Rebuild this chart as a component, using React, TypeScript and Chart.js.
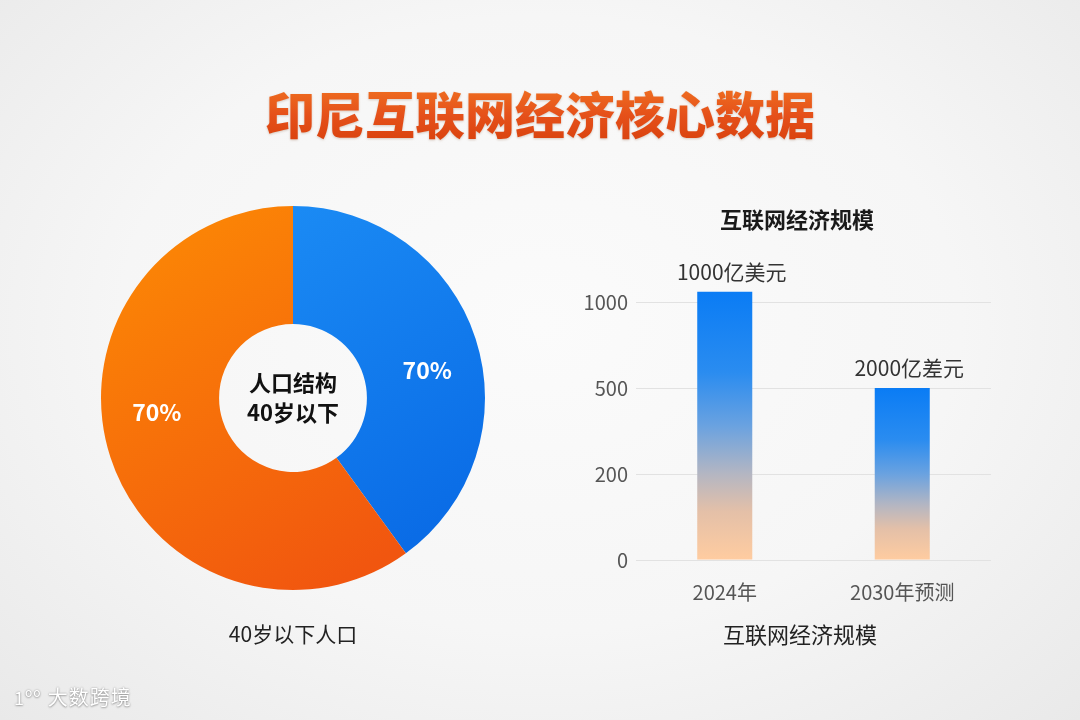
import React, { useEffect, useRef } from "react";
import { Chart, registerables } from "chart.js";

Chart.register(...registerables);

// ---- data ----
const pageTitle = "印尼互联网经济核心数据";
const pieCategories = ["40岁以下", "其他"];
const pieValues = [40, 60];
const pieLabels = ["70%", "70%"];
const pieCenterLines = ["人口结构", "40岁以下"];
const pieCaption = "40岁以下人口";

const barTitle = "互联网经济规模";
const barCategories = ["2024年", "2030年预测"];
const barValues = [1060, 500];
const barLabels = ["1000亿美元", "2000亿差元"];
const tickValues = [0, 200, 500, 1000];
const barAxisTitle = "互联网经济规模";

const FONT = '"Noto Sans CJK SC", "Noto Sans", sans-serif';

// piecewise mapping of the (unevenly spaced) axis values onto equal steps
function toAxis(v: number): number {
  for (let i = 1; i < tickValues.length; i++) {
    if (v <= tickValues[i] || i === tickValues.length - 1) {
      const a = tickValues[i - 1];
      const b = tickValues[i];
      return i - 1 + (v - a) / (b - a);
    }
  }
  return 0;
}

function DoughnutChart() {
  const ref = useRef<HTMLCanvasElement>(null);
  useEffect(() => {
    const labelPlugin = {
      id: "arcLabels",
      afterDatasetsDraw(chart: any) {
        const ctx = chart.ctx;
        const meta = chart.getDatasetMeta(0);
        const shifts = [6.5, 12];
        ctx.save();
        ctx.font = `bold 23px ${FONT}`;
        ctx.fillStyle = "#ffffff";
        ctx.textAlign = "center";
        ctx.textBaseline = "middle";
        meta.data.forEach((el: any, i: number) => {
          const p = el.getProps(["x", "y", "startAngle", "endAngle", "innerRadius", "outerRadius"], true);
          const a = (p.startAngle + p.endAngle) / 2 + (shifts[i] * Math.PI) / 180;
          const r = (p.innerRadius + p.outerRadius) / 2 + 4;
          ctx.fillText(pieLabels[i], p.x + Math.cos(a) * r, p.y + Math.sin(a) * r);
        });
        // center text
        const el0 = meta.data[0];
        if (el0) {
          ctx.fillStyle = "#111111";
          ctx.font = `bold 22px ${FONT}`;
          ctx.fillText(pieCenterLines[0], el0.x, el0.y - 15);
          ctx.fillText(pieCenterLines[1], el0.x, el0.y + 15);
        }
        ctx.restore();
      },
    };
    const grad = (ctx: any, top: string, bottom: string) => {
      const chart = ctx.chart;
      const area = chart.chartArea;
      if (!area) return top;
      const g = chart.ctx.createLinearGradient(area.left, area.top, area.right * 0.6, area.bottom);
      g.addColorStop(0, top);
      g.addColorStop(1, bottom);
      return g;
    };
    const chart = new Chart(ref.current!, {
      type: "doughnut",
      data: {
        labels: pieCategories,
        datasets: [
          {
            data: pieValues,
            backgroundColor: (c: any) =>
              c.dataIndex === 0 ? grad(c, "#1f93f8", "#0a6ce6") : grad(c, "#fd8c04", "#f1560f"),
            borderWidth: 0,
          },
        ],
      },
      options: {
        animation: false,
        responsive: false,
        cutout: "38.5%",
        layout: { padding: 8 },
        plugins: { legend: { display: false }, tooltip: { enabled: false } },
      },
      plugins: [labelPlugin],
    });
    return () => chart.destroy();
  }, []);
  return <canvas ref={ref} width={400} height={400} style={{ position: "absolute", left: 93, top: 198 }} />;
}

function BarChart() {
  const ref = useRef<HTMLCanvasElement>(null);
  useEffect(() => {
    const labelPlugin = {
      id: "barLabels",
      afterDatasetsDraw(chart: any) {
        const ctx = chart.ctx;
        const meta = chart.getDatasetMeta(0);
        ctx.save();
        ctx.font = `21px ${FONT}`;
        ctx.fillStyle = "#333333";
        ctx.textAlign = "center";
        ctx.textBaseline = "middle";
        meta.data.forEach((el: any, i: number) => {
          ctx.fillText(barLabels[i], el.x + 7, el.y - 20);
        });
        ctx.restore();
      },
    };
    const chart = new Chart(ref.current!, {
      type: "bar",
      data: {
        labels: barCategories,
        datasets: [
          {
            data: barValues.map(toAxis),
            backgroundColor: (c: any) => {
              const ch = c.chart;
              const area = ch.chartArea;
              if (!area || c.raw == null) return "#1a85f5";
              const top = ch.scales.y.getPixelForValue(c.raw);
              const bottom = ch.scales.y.getPixelForValue(0);
              const g = ch.ctx.createLinearGradient(0, top, 0, bottom);
              g.addColorStop(0, "#0a7cf5");
              g.addColorStop(0.3, "#2a8cf0");
              g.addColorStop(0.5, "#6aa2e0");
              g.addColorStop(0.68, "#b4b6c2");
              g.addColorStop(0.82, "#e4c0a8");
              g.addColorStop(1, "#ffcca0");
              return g;
            },
            borderWidth: 0,
            categoryPercentage: 1,
            barPercentage: 0.31,
          },
        ],
      },
      options: {
        animation: false,
        responsive: false,
        layout: { padding: { top: 59, right: 49, bottom: 0, left: 0 } },
        plugins: { legend: { display: false }, tooltip: { enabled: false } },
        scales: {
          x: {
            grid: { display: false },
            border: { display: false },
            ticks: { color: "#555555", font: { family: FONT, size: 20 }, padding: 12 },
            afterFit: (s: any) => {
              s.height = 60;
            },
          },
          y: {
            min: 0,
            max: 3.5,
            grid: { color: "#e2e2e2", lineWidth: 1, drawTicks: false },
            border: { display: false },
            afterBuildTicks: (s: any) => {
              s.ticks = tickValues.map((_, i) => ({ value: i }));
            },
            ticks: {
              color: "#555555",
              font: { family: FONT, size: 20 },
              padding: 8,
              callback: (v: any) => String(tickValues[Number(v)] ?? ""),
            },
            afterFit: (s: any) => {
              s.width = 76;
            },
          },
        },
      },
      plugins: [labelPlugin],
    });
    return () => chart.destroy();
  }, []);
  return <canvas ref={ref} width={480} height={420} style={{ position: "absolute", left: 560, top: 200 }} />;
}

export default function App() {
  useEffect(() => {
    document.body.style.margin = "0";
  }, []);
  return (
    <div
      style={{
        position: "fixed",
        left: 0,
        top: 0,
        width: 1080,
        height: 720,
        overflow: "hidden",
        fontFamily: FONT,
        background: "radial-gradient(ellipse at 50% 45%, #fbfbfb 0%, #f6f6f6 55%, #e9e9e9 100%)",
      }}
    >
      <div
        style={{
          position: "absolute",
          left: 0,
          width: 1080,
          top: 78,
          textAlign: "center",
          fontSize: 50,
          fontWeight: 900,
          lineHeight: "68px",
          letterSpacing: 0,
          color: "#e9561a",
          background: "linear-gradient(180deg, #f27822 0%, #e5501a 55%, #d8400c 100%)",
          WebkitBackgroundClip: "text",
          backgroundClip: "text",
          WebkitTextFillColor: "transparent",
          filter: "drop-shadow(0px 1px 1px rgba(120,60,20,0.25))",
        }}
      >
        {pageTitle}
      </div>

      <DoughnutChart />
      <div
        style={{
          position: "absolute",
          left: 93,
          width: 400,
          top: 618,
          textAlign: "center",
          fontSize: 21,
          lineHeight: "30px",
          color: "#222222",
        }}
      >
        {pieCaption}
      </div>

      <div
        style={{
          position: "absolute",
          left: 637,
          width: 320,
          top: 202,
          textAlign: "center",
          fontSize: 22,
          fontWeight: 700,
          lineHeight: "32px",
          color: "#1a1a1a",
        }}
      >
        {barTitle}
      </div>
      <BarChart />
      <div
        style={{
          position: "absolute",
          left: 650,
          width: 300,
          top: 617,
          textAlign: "center",
          fontSize: 22,
          lineHeight: "32px",
          color: "#222222",
        }}
      >
        {barAxisTitle}
      </div>

      <div
        style={{
          position: "absolute",
          left: 14,
          top: 683,
          fontSize: 20,
          lineHeight: "28px",
          color: "#ffffff",
          textShadow: "0 0 2px rgba(0,0,0,0.35), 0 1px 2px rgba(0,0,0,0.25)",
          letterSpacing: 1,
        }}
      >
        <span style={{ fontSize: 18, marginRight: 6 }}>1ºº</span>大数跨境
      </div>
    </div>
  );
}
